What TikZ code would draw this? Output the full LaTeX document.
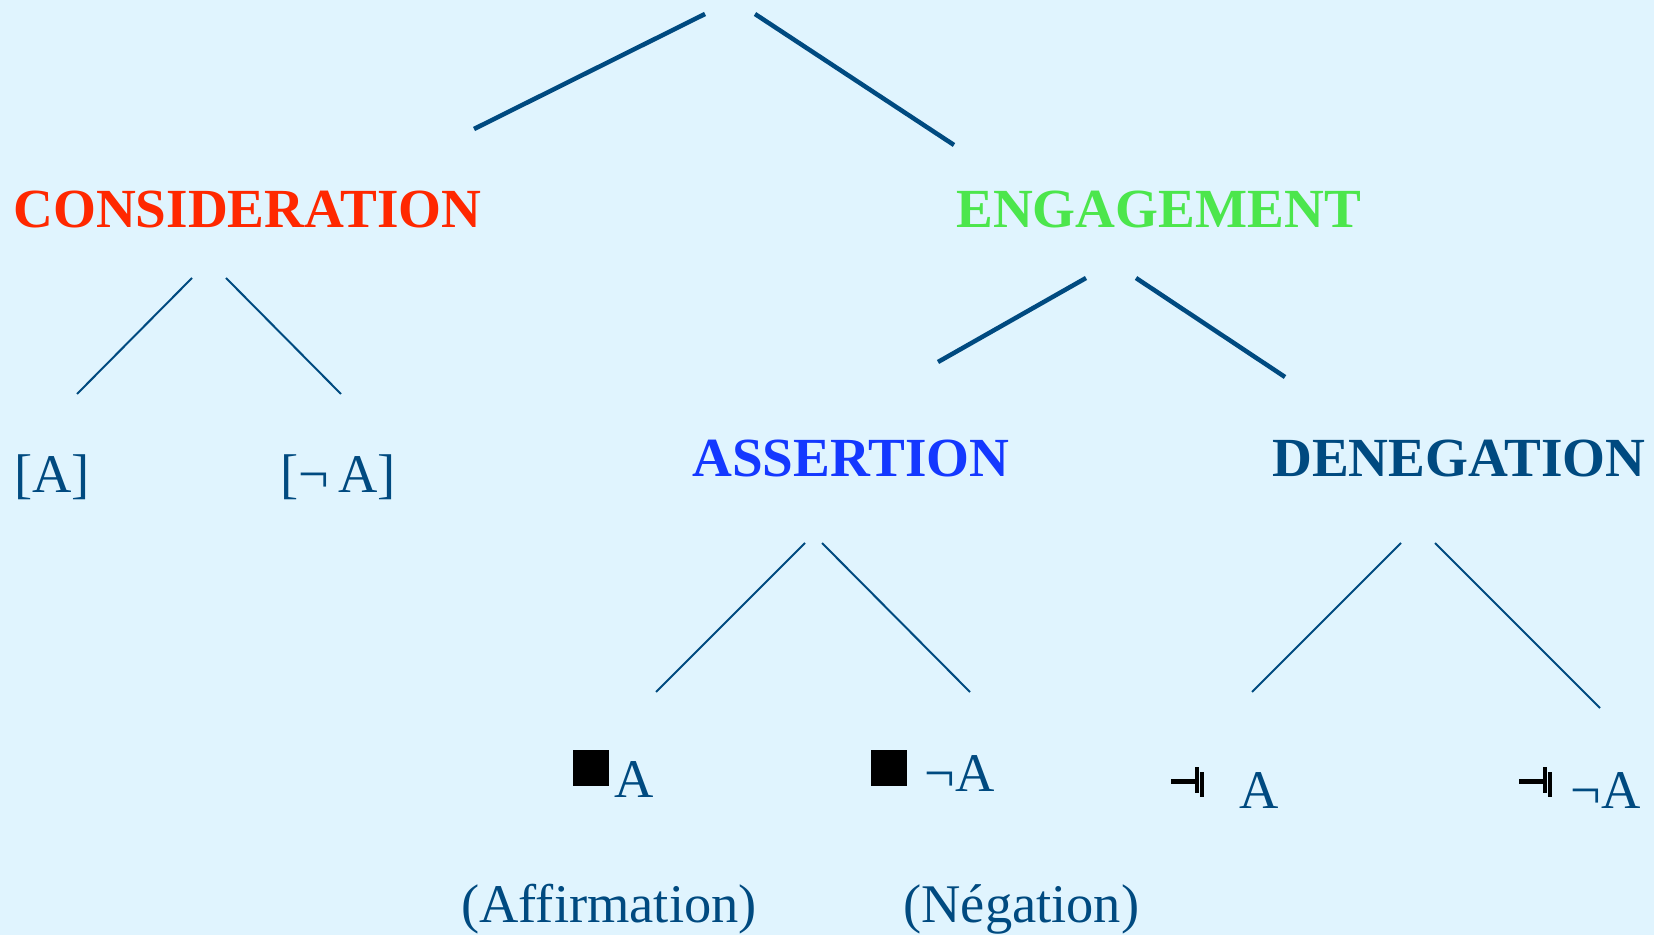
\documentclass[tikz,border=0pt]{standalone}
\usepackage{fontspec}
\setmainfont{Liberation Serif}
\definecolor{fondo}{RGB}{224,244,254}
\definecolor{rojo}{RGB}{255,40,0}
\definecolor{verde}{RGB}{76,230,76}
\definecolor{azul}{RGB}{20,56,255}
\definecolor{marino}{RGB}{0,74,128}
\begin{document}
\begin{tikzpicture}[x=0.02cm,y=-0.02cm,
  titulo/.style={anchor=base west,inner sep=0pt,font=\fontsize{31.4}{36}\selectfont\bfseries},
  texto/.style={anchor=base west,inner sep=0pt,text=marino,font=\fontsize{31}{36}\selectfont},
  rama/.style={marino,line width=0.04cm},
  rama gruesa/.style={marino,line width=0.09cm},
  cuadro/.style={fill=black,inner sep=0pt,minimum size=0.72cm},
  denegacion/.pic={
    \draw[line width=0.1cm] (0,0) -- (27,0);
    \draw[line width=0.09cm] (26,-14) -- (26,12);
    \draw[line width=0.08cm] (31,-9) -- (31,16);
  }]
  % Fondo
  \fill[fondo] (0,0) rectangle (1654,935);
  % Niveles del arbol
  \node[titulo,text=rojo] (consideracion) at (13,228) {CONSIDERATION};
  \node[titulo,text=verde] (engagement) at (956,228) {ENGAGEMENT};
  \node[titulo,text=azul] (assertion) at (692,477) {ASSERTION};
  \node[titulo,text=marino] (denegation) at (1272,477) {DENEGATION};
  \node[texto] (a) at (14,493) {[A]};
  \node[texto] (no-a) at (280,493) {[¬\hspace{0.17em}A]};
  % Hojas de la asercion
  \node[cuadro] (cuadro-a) at (591,768) {};
  \node[texto] (afirm-a) at (614,797) {A};
  \node[cuadro] (cuadro-no) at (889,768) {};
  \node[texto] (afirm-no) at (924,791) {¬A};
  \node[texto] (affirmation) at (461,922) {(Affirmation)};
  \node[texto] (negation) at (903,922) {(Négation)};
  % Hojas de la denegacion
  \pic at (1171,781) {denegacion};
  \node[texto] (den-a) at (1239,808) {A};
  \pic at (1519,781) {denegacion};
  \node[texto] (den-no) at (1570,808) {¬A};
  % Extremos de las ramas
  \coordinate (r1) at (705,14);   \coordinate (r1b) at (474,129);
  \coordinate (r2) at (755,14);   \coordinate (r2b) at (954,145);
  \coordinate (c1) at (192,278);  \coordinate (c1b) at (77,394);
  \coordinate (c2) at (226,278);  \coordinate (c2b) at (341,394);
  \coordinate (e1) at (1086,278); \coordinate (e1b) at (938,362);
  \coordinate (e2) at (1136,278); \coordinate (e2b) at (1285,377);
  \coordinate (s1) at (805,543);  \coordinate (s1b) at (656,692);
  \coordinate (s2) at (822,543);  \coordinate (s2b) at (970,692);
  \coordinate (d1) at (1401,543); \coordinate (d1b) at (1252,692);
  \coordinate (d2) at (1435,543); \coordinate (d2b) at (1600,708);
  % Ramas
  \draw[rama gruesa] (r1) -- (r1b);
  \draw[rama gruesa] (r2) -- (r2b);
  \draw[rama gruesa] (e1) -- (e1b);
  \draw[rama gruesa] (e2) -- (e2b);
  \draw[rama] (c1) -- (c1b);
  \draw[rama] (c2) -- (c2b);
  \draw[rama] (s1) -- (s1b);
  \draw[rama] (s2) -- (s2b);
  \draw[rama] (d1) -- (d1b);
  \draw[rama] (d2) -- (d2b);
\end{tikzpicture}
\end{document}
